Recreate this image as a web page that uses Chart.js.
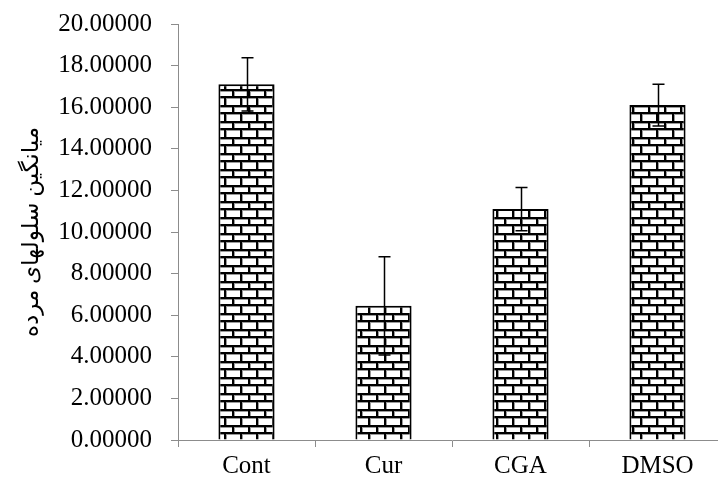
<!DOCTYPE html>
<html>
<head>
<meta charset="utf-8">
<script src="https://cdn.jsdelivr.net/npm/chart.js@4.4.1/dist/chart.umd.min.js"></script>
<style>
  html, body { margin: 0; padding: 0; background: #fff; overflow: hidden; width: 718px; height: 483px; }
  #wrap { width: 740px; height: 483px; }
</style>
</head>
<body>
<div id="wrap"><canvas id="c" width="740" height="483"></canvas></div>
<script>
// ---- data ----
const categories = ['Cont', 'Cur', 'CGA', 'DMSO'];
const meanValues = [17.10, 6.45, 11.10, 16.10];
const errorValues = [1.28, 2.36, 1.04, 1.00];
const yTickLabels = ['0.00000', '2.00000', '4.00000', '6.00000', '8.00000', '10.00000',
                     '12.00000', '14.00000', '16.00000', '18.00000', '20.00000'];
const yTitle = 'میانگین سلولهای مرده';

// ---- brick pattern ----
function brickPattern() {
  const t = document.createElement('canvas');
  t.width = 16; t.height = 16;
  const g = t.getContext('2d');
  g.fillStyle = '#ffffff'; g.fillRect(0, 0, 16, 16);
  g.fillStyle = '#9a9a9a';
  g.fillRect(0, 2, 16, 1);
  g.fillRect(0, 11, 16, 1);
  g.fillRect(2, 2, 1, 7);
  g.fillRect(10, 11, 1, 5);
  g.fillStyle = '#000000';
  g.fillRect(0, 0, 16, 2);
  g.fillRect(0, 9, 16, 2);
  g.fillRect(0, 0, 2, 9);
  g.fillRect(8, 9, 2, 7);
  return document.getElementById('c').getContext('2d').createPattern(t, 'repeat');
}

const errorBarPlugin = {
  id: 'errorBars',
  afterDatasetsDraw(chart) {
    const ctx = chart.ctx;
    const meta = chart.getDatasetMeta(0);
    const ys = chart.scales.y;
    ctx.save();
    ctx.strokeStyle = '#000';
    ctx.lineWidth = 1.5;
    meta.data.forEach((bar, i) => {
      const x = Math.round(bar.x) + 0.5;
      const top = ys.getPixelForValue(meanValues[i] + errorValues[i]);
      const bot = ys.getPixelForValue(meanValues[i] - errorValues[i]);
      ctx.beginPath();
      ctx.moveTo(x, top); ctx.lineTo(x, bot);
      ctx.moveTo(x - 6, top); ctx.lineTo(x + 6, top);
      ctx.moveTo(x - 6, bot); ctx.lineTo(x + 6, bot);
      ctx.stroke();
    });
    ctx.restore();
  }
};

const axisGray = '#8c8c8c';
const serif = "'Liberation Serif', 'Times New Roman', serif";

new Chart(document.getElementById('c'), {
  type: 'bar',
  data: {
    labels: categories,
    datasets: [{
      data: meanValues,
      backgroundColor: brickPattern(),
      borderColor: '#000000',
      borderWidth: 2,
      categoryPercentage: 1.0,
      barPercentage: 0.41
    }]
  },
  options: {
    responsive: false,
    animation: false,
    devicePixelRatio: 1,
    layout: { padding: { left: 0, right: 14, top: 24, bottom: 0 } },
    plugins: { legend: { display: false }, tooltip: { enabled: false } },
    scales: {
      x: {
        grid: { display: true, drawOnChartArea: false, drawTicks: true, tickLength: 7, color: axisGray, offset: true },
        border: { display: true, color: axisGray, width: 1 },
        ticks: { color: '#000', font: { family: serif, size: 25 }, padding: 4 },
        afterFit(s) { s.height = 43; }
      },
      y: {
        min: 0, max: 20,
        grid: { display: true, drawOnChartArea: false, drawTicks: true, tickLength: 7, color: axisGray },
        border: { display: true, color: axisGray, width: 1 },
        ticks: {
          stepSize: 2, color: '#000', font: { family: serif, size: 25 }, padding: 19,
          callback: (v) => yTickLabels[Math.round(v / 2)]
        },
        title: {
          display: true, text: yTitle, color: '#000',
          font: { family: "'Liberation Serif', 'DejaVu Serif', 'DejaVu Sans', serif", size: 23 },
          padding: { top: 18, bottom: 0 }
        },
        afterFit(s) { s.width = 178; s.paddingTop = 0; s.paddingBottom = 0; }
      }
    }
  },
  plugins: [errorBarPlugin]
});
</script>
</body>
</html>
